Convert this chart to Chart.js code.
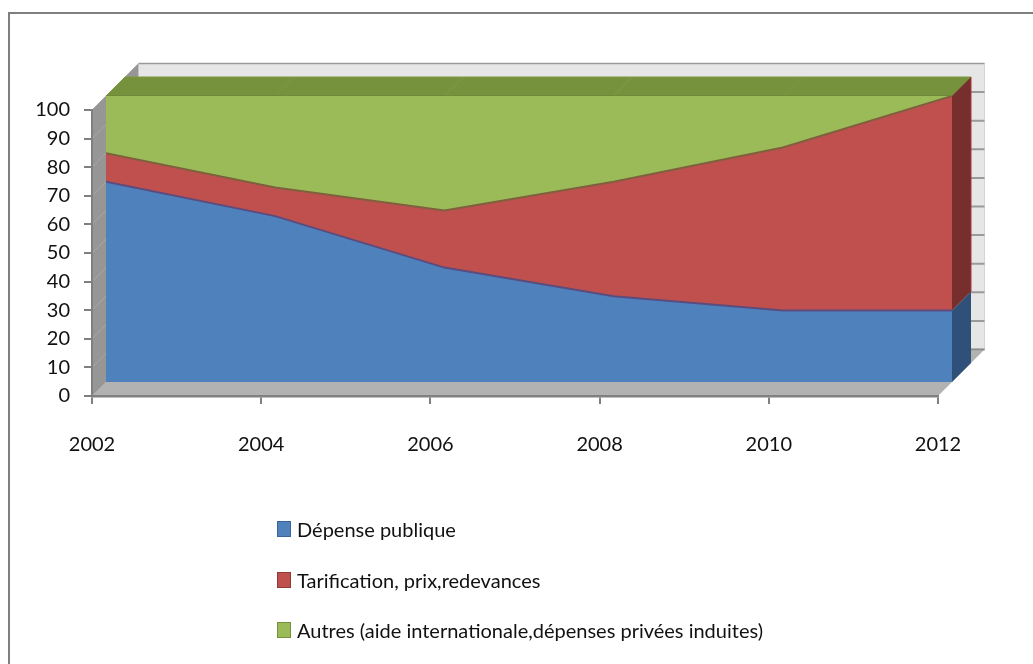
<!DOCTYPE html>
<html lang="fr">
<head>
<meta charset="utf-8">
<title>Financement</title>
<script src="https://cdn.jsdelivr.net/npm/chart.js@4"></script>
<style>
  html, body { margin: 0; padding: 0; background: #fff; overflow: hidden; }
  #wrap { position: relative; width: 1033px; height: 664px; overflow: hidden; }
  #frame { position: absolute; left: 8px; top: 12px; width: 1100px; height: 800px; border-left: 2px solid #7f7f7f; border-top: 2px solid #7f7f7f; }
  #chart { position: absolute; left: 0; top: 0; }
  #legend { position: absolute; left: 277px; top: 513px; font-family: Lato, sans-serif; font-size: 20px; color: #111; }
  .row { display: flex; align-items: center; height: 32px; margin-bottom: 18.5px; white-space: nowrap; }
  .swatch { width: 12px; height: 14px; border: 1px solid; margin-right: 6px; }
</style>
</head>
<body>
<div id="wrap">
  <div id="frame"></div>
  <canvas id="chart" width="1033" height="664"></canvas>
  <div id="legend"></div>
</div>
<script>
(function () {
  const years = [2002, 2004, 2006, 2008, 2010, 2012];
  const depensePublique = [70, 58, 40, 30, 25, 25];
  const tarification = [10, 10, 20, 40, 57, 75];
  const autres = [20, 32, 40, 30, 18, 0];
  const seriesNames = [
    'Dépense publique',
    'Tarification, prix,redevances',
    'Autres (aide internationale,dépenses privées induites)',
  ];
  const fillColors = ['#4f81bd', '#c0504d', '#9bbb59'];
  const edgeColors = ['#5a4c7e', '#7f603c', '#9bbb59'];
  const legendEdges = ['#3a6598', '#8f3a38', '#76923c'];

  const FRONT = 14;
  const SIDE = 33;
  const BACK = 46.5;
  const FONT = 'Lato, sans-serif';

  function poly(ctx, pts, fill, stroke) {
    ctx.beginPath();
    pts.forEach((p, i) => (i ? ctx.lineTo(p[0], p[1]) : ctx.moveTo(p[0], p[1])));
    ctx.closePath();
    ctx.fillStyle = fill;
    ctx.fill();
    if (stroke) {
      ctx.strokeStyle = stroke;
      ctx.lineWidth = 1;
      ctx.stroke();
    }
  }

  function line(ctx, x1, y1, x2, y2, color, width) {
    ctx.beginPath();
    ctx.moveTo(x1, y1);
    ctx.lineTo(x2, y2);
    ctx.strokeStyle = color;
    ctx.lineWidth = width;
    ctx.stroke();
  }

  // walls and floor of the 3d box, placed from the scales
  const box3d = {
    id: 'box3d',
    beforeDraw(chart) {
      const { ctx, scales: { x, y } } = chart;
      const x0 = x.getPixelForValue(years[0]);
      const x1 = x.getPixelForValue(years[years.length - 1]);
      const y0 = y.getPixelForValue(0);
      const y1 = y.getPixelForValue(100);
      ctx.save();
      poly(ctx, [[x0 + BACK, y1 - BACK], [x1 + BACK, y1 - BACK], [x1 + BACK, y0 - BACK], [x0 + BACK, y0 - BACK]], '#e6e6e6');
      line(ctx, x1 + BACK, y1 - BACK, x1 + BACK, y0 - BACK, '#d4d4d4', 1);
      y.ticks.forEach((t) => {
        const py = y.getPixelForValue(t.value) - BACK;
        line(ctx, x0 + BACK, py, x1 + BACK, py, '#9a9a9a', t.value === 100 ? 1.5 : 2);
      });
      poly(ctx, [[x0, y0], [x0, y1], [x0 + BACK, y1 - BACK], [x0 + BACK, y0 - BACK]], '#969696');
      y.ticks.forEach((t) => {
        const py = y.getPixelForValue(t.value);
        line(ctx, x0, py, x0 + BACK, py - BACK, '#a8a8a8', 1);
      });
      poly(ctx, [[x0, y0], [x1, y0], [x1 + BACK, y0 - BACK], [x0 + BACK, y0 - BACK]], '#b2b2b2');
      line(ctx, x1 + SIDE, y0 - BACK, x1 + BACK, y0 - BACK, '#8c8c8c', 1.5);
      ctx.restore();
    },
    beforeDatasetsDraw(chart) {
      const { ctx, scales: { x, y } } = chart;
      const last = years.length - 1;
      const xf = x.getPixelForValue(years[last]) + FRONT;
      const cut = y.getPixelForValue(depensePublique[last]) - FRONT;
      const top = y.getPixelForValue(depensePublique[last] + tarification[last] + autres[last]) - FRONT;
      const base = y.getPixelForValue(0) - FRONT;
      const d = SIDE - FRONT;
      ctx.save();
      // top face, one piece per year step
      years.slice(0, last).forEach((yr, i) => {
        const a = x.getPixelForValue(yr) + FRONT;
        const b = x.getPixelForValue(years[i + 1]) + FRONT;
        poly(ctx, [[a, top], [b, top], [b + d, top - d], [a + d, top - d]], '#76923c', '#7c9744');
      });
      line(ctx, x.getPixelForValue(years[0]) + FRONT, top - 0.5, xf, top - 0.5, '#6f8a3a', 1);
      // right side face
      poly(ctx, [[xf, base], [xf, cut], [xf + d, cut - d], [xf + d, base - d]], '#2f5078');
      poly(ctx, [[xf, cut], [xf, top], [xf + d, top - d], [xf + d, cut - d]], '#772f2e');
      line(ctx, xf + d, top - d, xf + d, cut - d, '#a33a38', 1);
      ctx.translate(FRONT, -FRONT);
    },
    afterDatasetsDraw(chart) {
      chart.ctx.restore();
    },
  };

  function points(values) {
    return values.map((v, i) => ({ x: years[i], y: v }));
  }

  function makeDataset(i, values, fill) {
    return {
      label: seriesNames[i],
      data: points(values),
      backgroundColor: fillColors[i],
      borderColor: edgeColors[i],
      borderWidth: i === 2 ? 0 : 2,
      pointRadius: 0,
      tension: 0,
      fill: fill,
    };
  }

  function axisTicks() {
    return { color: '#111', autoSkip: false, font: { family: FONT, size: 20 } };
  }

  new Chart(document.getElementById('chart').getContext('2d'), {
    type: 'line',
    data: {
      datasets: [
        makeDataset(0, depensePublique, 'origin'),
        makeDataset(1, tarification, '-1'),
        makeDataset(2, autres, '-1'),
      ],
    },
    options: {
      responsive: false,
      animation: false,
      layout: { padding: { top: 110, right: 95, left: 0, bottom: 0 } },
      plugins: { legend: { display: false }, tooltip: { enabled: false } },
      scales: {
        x: {
          type: 'linear',
          min: 2002,
          max: 2012,
          afterFit: (s) => { s.height = 268; },
          border: { color: '#808080', width: 2.5 },
          grid: { drawOnChartArea: false, color: '#808080', lineWidth: 2, tickLength: 8 },
          ticks: Object.assign(axisTicks(), { stepSize: 2, padding: 29, maxRotation: 0, callback: (v) => String(v) }),
        },
        y: {
          stacked: true,
          min: 0,
          max: 100,
          afterFit: (s) => { s.width = 92; },
          border: { color: '#808080', width: 2 },
          grid: { drawOnChartArea: false, color: '#808080', lineWidth: 2, tickLength: 8 },
          ticks: Object.assign(axisTicks(), { stepSize: 10, padding: 14 }),
        },
      },
    },
    plugins: [box3d],
  });

  const legend = document.getElementById('legend');
  seriesNames.forEach((name, i) => {
    const row = document.createElement('div');
    row.className = 'row';
    const swatch = document.createElement('span');
    swatch.className = 'swatch';
    swatch.style.background = fillColors[i];
    swatch.style.borderColor = legendEdges[i];
    const label = document.createElement('span');
    label.textContent = name;
    row.appendChild(swatch);
    row.appendChild(label);
    legend.appendChild(row);
  });
})();
</script>
</body>
</html>
